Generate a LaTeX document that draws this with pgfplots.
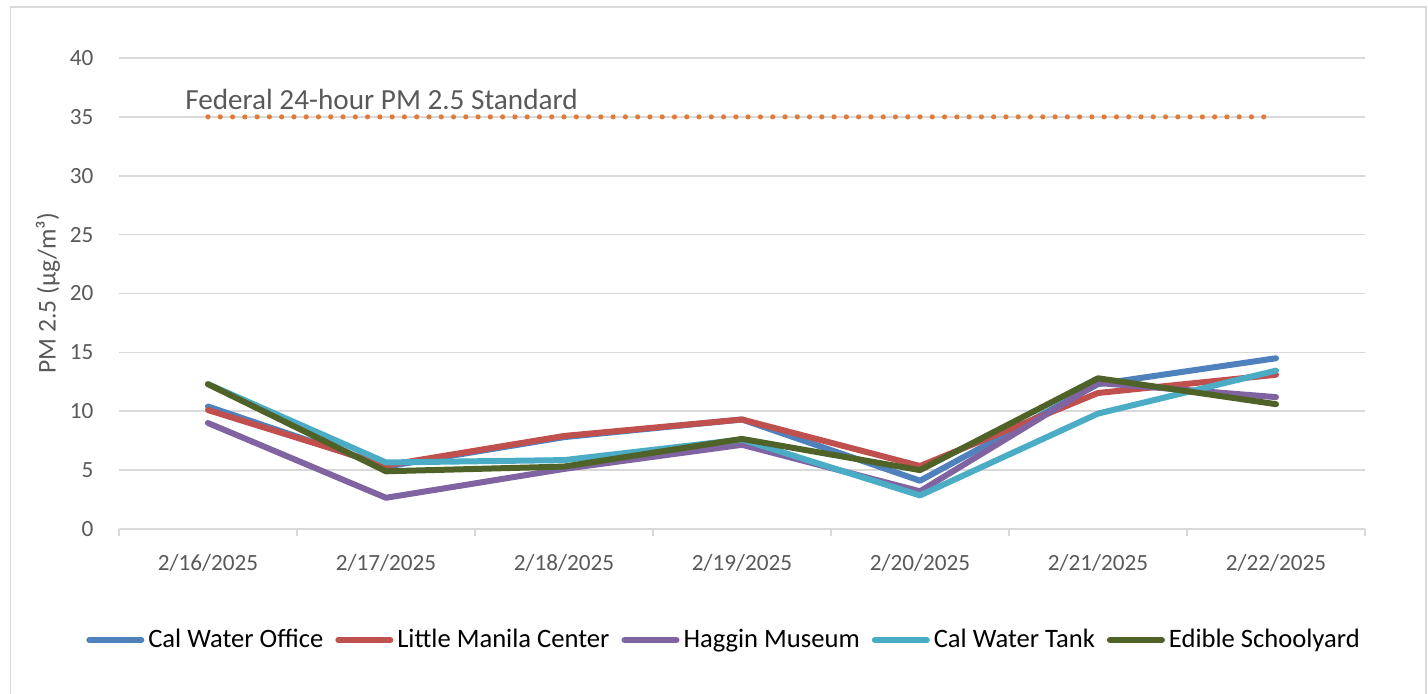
\documentclass[border=0pt]{standalone}
\usepackage{fontspec}
\setmainfont{Carlito}
\usepackage{pgfplots}
\pgfplotsset{compat=1.18}
\definecolor{cwo}{HTML}{4F81BD}
\definecolor{lmc}{HTML}{C0504D}
\definecolor{hag}{HTML}{8064A2}
\definecolor{cwt}{HTML}{4BACC6}
\definecolor{esy}{HTML}{4F6228}
\definecolor{fed}{HTML}{E07B39}
\definecolor{gridc}{HTML}{D9D9D9}
\definecolor{txt}{HTML}{595959}
\begin{document}
\begin{tikzpicture}
\path[use as bounding box] (0,0) rectangle (714pt,347pt);
\draw[gridc, line width=0.8pt] (5.25pt,0) -- (5.25pt,343.4pt) -- (713pt,343.4pt) -- (713pt,0);
\begin{axis}[
  at={(59.5pt,82.5pt)}, anchor=south west,
  scale only axis, width=623pt, height=235.5pt,
  xmin=-0.5, xmax=6.5, ymin=0, ymax=40,
  xtick={0,...,6},
  xticklabels={2/16/2025,2/17/2025,2/18/2025,2/19/2025,2/20/2025,2/21/2025,2/22/2025},
  minor xtick={-0.5,0.5,...,6.5},
  major x tick style={draw=none},
  minor x tick style={gridc, line width=0.8pt},
  minor tick length=3.5pt,
  tick align=outside,
  ytick={0,5,...,40},
  y tick style={draw=none},
  ymajorgrids, major grid style={gridc, line width=0.8pt},
  axis x line*=bottom, axis y line*=left,
  x axis line style={gridc, line width=0.8pt, -},
  y axis line style={draw=none},
  /pgf/number format/assume math mode=true,
  tick label style={font=\fontsize{11.6}{14}\selectfont, text=txt},
  xticklabel style={yshift=-5pt},
  yticklabel style={xshift=-5pt},
  ylabel={PM 2.5 (µg/m³)},
  ylabel style={at={(axis description cs:-0.057,0.5)}, anchor=center, font=\fontsize{12.8}{15}\selectfont, text=txt},
  legend columns=5,
  legend style={at={(0.4864,-0.2357)}, anchor=center, draw=none, fill=none,
    font=\fontsize{13.3}{16}\selectfont, inner sep=0pt,
    /tikz/every even column/.append style={column sep=4pt}},
  legend image code/.code={\draw[#1, line width=3pt, line cap=round] (0pt,0pt) -- (26pt,0pt);},
  every axis plot/.append style={line width=3pt, line join=round, line cap=round},
  clip=false,
]
\addplot[fed, line width=2.6pt, line cap=round, dash pattern=on 0pt off 6.138pt, forget plot] coordinates {(0,35) (6,35)};
\addplot[cwo] coordinates {(0,10.4) (1,5.3) (2,7.8) (3,9.3) (4,4.1) (5,12.3) (6,14.5)};
\addlegendentry{Cal Water Office}
\addplot[lmc] coordinates {(0,10.1) (1,5.4) (2,7.9) (3,9.3) (4,5.35) (5,11.55) (6,13.1)};
\addlegendentry{Little Manila Center}
\addplot[hag] coordinates {(0,9.0) (1,2.65) (2,5.1) (3,7.15) (4,3.2) (5,12.4) (6,11.2)};
\addlegendentry{Haggin Museum}
\addplot[cwt] coordinates {(0,12.3) (1,5.65) (2,5.85) (3,7.6) (4,2.85) (5,9.8) (6,13.45)};
\addlegendentry{Cal Water Tank}
\addplot[esy] coordinates {(0,12.3) (1,4.9) (2,5.3) (3,7.65) (4,5.0) (5,12.8) (6,10.6)};
\addlegendentry{Edible Schoolyard}
\node[anchor=west, text=txt, font=\fontsize{14.6}{17}\selectfont, inner sep=0pt] at (axis cs:-0.13,36.45) {Federal 24-hour PM 2.5 Standard};
\end{axis}
\end{tikzpicture}
\end{document}
